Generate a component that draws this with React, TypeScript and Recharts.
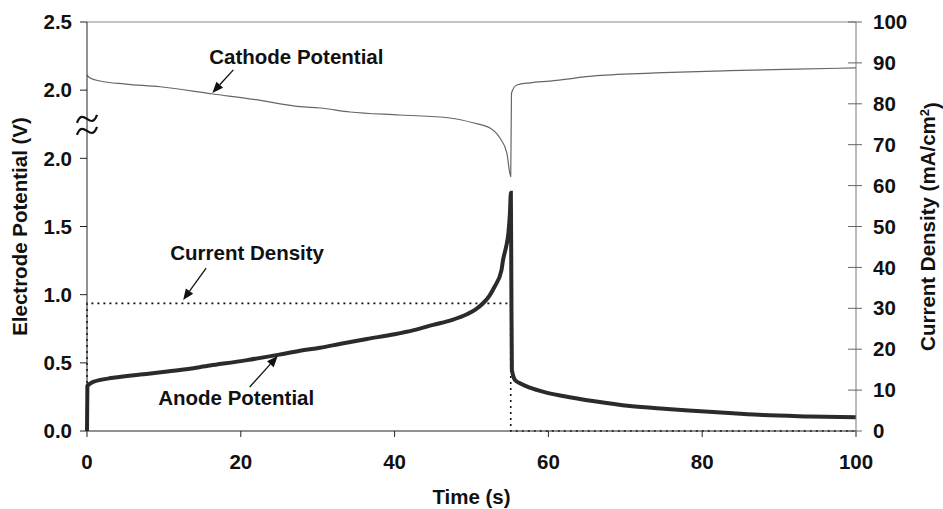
import React from "react";
import { LineChart, Line, XAxis, YAxis, ReferenceLine, ReferenceDot } from "recharts";

document.body.style.margin = "0";

const FONT = "'Liberation Sans', Arial, Helvetica, sans-serif";

// axis ticks
const TIME_TICKS = [0, 20, 40, 60, 80, 100];
const LEFT_TICKS = [0, 0.5, 1, 1.5, 2, 2.5, 3];
const LEFT_TICK_LABELS = ["0.0", "0.5", "1.0", "1.5", "2.0", "2.0", "2.5"];
const RIGHT_TICKS = [0, 10, 20, 30, 40, 50, 60, 70, 80, 90, 100];
// the upper (cathode) segment of the left axis sits above a break
const BREAK_OFFSET = 0.5;

// anode potential (V)
const anodeTime = [0, 0.05, 0.8, 3.4, 8, 12.1, 16, 20.8, 25, 27.7, 30.3, 33, 36.4, 40, 42.5, 45, 47.5, 49.4, 50.5, 51.5, 52.3, 53, 53.9, 54.1, 54.5, 54.8, 55.0, 55.12, 55.18, 55.25, 55.66, 56.5, 57.6, 59.5, 61.9, 66, 70.6, 75, 79.3, 84, 87.9, 94, 100];
const anodeV = [0, 0.33, 0.36, 0.39, 0.42, 0.447, 0.48, 0.52, 0.56, 0.589, 0.61, 0.64, 0.675, 0.71, 0.74, 0.778, 0.815, 0.856, 0.89, 0.937, 0.99, 1.058, 1.18, 1.254, 1.35, 1.452, 1.6, 1.748, 1.1, 0.45, 0.374, 0.345, 0.318, 0.285, 0.257, 0.218, 0.183, 0.163, 0.147, 0.13, 0.117, 0.107, 0.1];

// cathode potential (V)
const cathodeTime = [0, 0.4, 1.7, 5, 9.5, 16.4, 22, 27.7, 30.3, 34.2, 40.7, 47.2, 50.2, 52.4, 53.7, 54.6, 55.1, 55.2, 55.9, 57.6, 60.2, 66.3, 74.9, 83.6, 92.3, 100];
const cathodeV = [2.111, 2.089, 2.067, 2.045, 2.025, 1.972, 1.93, 1.879, 1.869, 1.84, 1.818, 1.796, 1.761, 1.722, 1.649, 1.539, 1.365, 1.979, 2.038, 2.054, 2.067, 2.106, 2.128, 2.143, 2.155, 2.163];

// current density (mA/cm2)
const currentTime = [0, 0, 55.1, 55.1, 100];
const currentDensity = [0, 31.2, 31.2, 0, 0];

const anodeData = anodeTime.map((t, i) => ({ t, v: anodeV[i] }));
const cathodeData = cathodeTime.map((t, i) => ({ t, v: cathodeV[i] + BREAK_OFFSET }));
const currentData = currentTime.map((t, i) => ({ t, j: currentDensity[i] }));

const textStyle = { fontFamily: FONT, fontWeight: "bold", fontSize: 20.5, fill: "#111" } as const;

const RIGHT_TICK_SIZE = 6;
const RIGHT_TICK_MARGIN = 11;

const RightTick = (props: any) => {
  const { x, y, payload } = props;
  const ax = x - RIGHT_TICK_SIZE - RIGHT_TICK_MARGIN;
  return (
    <g>
      <line x1={ax - 8} x2={ax + RIGHT_TICK_SIZE} y1={y} y2={y} stroke="#666" strokeWidth={1} />
      <text x={x} y={y} dy="0.35em" textAnchor="start" {...textStyle}>
        {payload.value}
      </text>
    </g>
  );
};

const annotation = (text: string, tail: number[], label: number[]) => (props: any) => {
  const { cx, cy } = props;
  const tx = cx + tail[0];
  const ty = cy + tail[1];
  const ang = Math.atan2(cy - ty, cx - tx);
  const L = 11;
  const W = 4.5;
  const bx = cx - L * Math.cos(ang);
  const by = cy - L * Math.sin(ang);
  const px = -Math.sin(ang) * W;
  const py = Math.cos(ang) * W;
  return (
    <g>
      <line x1={tx} y1={ty} x2={bx} y2={by} stroke="#111" strokeWidth={1.3} />
      <polygon points={`${cx},${cy} ${bx + px},${by + py} ${bx - px},${by - py}`} fill="#111" />
      <text x={cx + label[0]} y={cy + label[1]} textAnchor="middle" {...textStyle}>
        {text}
      </text>
    </g>
  );
};

const breakMark = (props: any) => {
  const { cx, cy } = props;
  const d = [-6, 6]
    .map(
      (o) =>
        `M ${cx - 10} ${cy + o + 4} C ${cx - 4} ${cy + o - 13}, ${cx + 4} ${cy + o + 13}, ${cx + 10} ${cy + o - 4}`
    )
    .join(" ");
  return <path d={d} fill="none" stroke="#111" strokeWidth={2.2} />;
};

export default function App() {
  return (
    <LineChart width={943} height={509} margin={{ top: 22, right: 0, bottom: 0, left: 0 }}>
      <XAxis
        dataKey="t"
        type="number"
        domain={[0, 100]}
        ticks={TIME_TICKS}
        height={78}
        tickSize={6}
        tickMargin={17}
        stroke="#222"
        tick={textStyle}
        label={{
          content: ({ viewBox }: any) => (
            <text x={viewBox.x + viewBox.width / 2} y={viewBox.y + 73} textAnchor="middle" {...textStyle}>
              Time (s)
            </text>
          ),
        }}
      />
      <YAxis
        yAxisId="left"
        type="number"
        domain={[0, 3]}
        ticks={LEFT_TICKS}
        tickFormatter={(v: number) => LEFT_TICK_LABELS[LEFT_TICKS.indexOf(v)]}
        width={87}
        tickSize={7}
        tickMargin={8}
        stroke="#222"
        tick={textStyle}
        allowDataOverflow
        label={{
          content: ({ viewBox }: any) => {
            const x = viewBox.x + 20;
            const y = viewBox.y + viewBox.height / 2;
            return (
              <text x={x} y={y} dy="0.35em" transform={`rotate(-90 ${x} ${y})`} textAnchor="middle" {...textStyle}>
                Electrode Potential (V)
              </text>
            );
          },
        }}
      />
      <YAxis
        yAxisId="right"
        orientation="right"
        type="number"
        domain={[0, 100]}
        ticks={RIGHT_TICKS}
        width={87}
        tickSize={RIGHT_TICK_SIZE}
        tickMargin={RIGHT_TICK_MARGIN}
        tickLine={false}
        stroke="#777"
        tick={<RightTick />}
        label={{
          content: ({ viewBox }: any) => {
            const x = viewBox.x + 72;
            const y = viewBox.y + viewBox.height / 2;
            return (
              <text x={x} y={y} dy="0.35em" transform={`rotate(-90 ${x} ${y})`} textAnchor="middle" {...textStyle}>
                Current Density (mA/cm
                <tspan dy="-0.45em" fontSize={13}>2</tspan>
                <tspan dy="0.45em">)</tspan>
              </text>
            );
          },
        }}
      />
      <ReferenceLine yAxisId="left" y={3} stroke="#888" strokeWidth={1} />
      <Line
        yAxisId="right"
        data={currentData}
        dataKey="j"
        type="linear"
        stroke="#111"
        strokeWidth={1.6}
        strokeDasharray="2 4"
        dot={false}
        activeDot={false}
        isAnimationActive={false}
      />
      <Line
        yAxisId="left"
        data={cathodeData}
        dataKey="v"
        type="monotone"
        stroke="#666"
        strokeWidth={1.2}
        dot={false}
        activeDot={false}
        isAnimationActive={false}
      />
      <Line
        yAxisId="left"
        data={anodeData}
        dataKey="v"
        type="monotone"
        stroke="#2b2b2b"
        strokeWidth={4}
        dot={false}
        activeDot={false}
        isAnimationActive={false}
      />
      <ReferenceDot yAxisId="left" x={0} y={2.245} r={1} shape={breakMark} ifOverflow="visible" />
      <ReferenceDot
        yAxisId="left"
        x={16.3}
        y={1.98 + BREAK_OFFSET}
        r={1}
        shape={annotation("Cathode Potential", [21, -23], [84, -28.5])}
        ifOverflow="visible"
      />
      <ReferenceDot
        yAxisId="left"
        x={12.5}
        y={0.96}
        r={1}
        shape={annotation("Current Density", [23, -32], [64, -40])}
        ifOverflow="visible"
      />
      <ReferenceDot
        yAxisId="left"
        x={24.8}
        y={0.55}
        r={1}
        shape={annotation("Anode Potential", [-28, 31], [-41.5, 49])}
        ifOverflow="visible"
      />
    </LineChart>
  );
}
